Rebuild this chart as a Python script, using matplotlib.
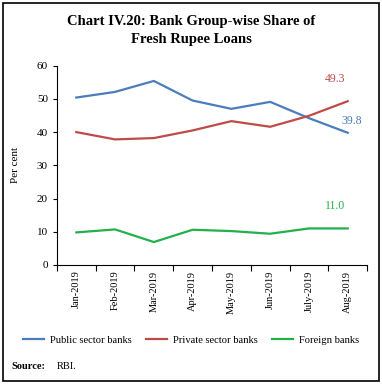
import matplotlib
matplotlib.use("Agg")
import matplotlib.pyplot as plt
from matplotlib.patches import Rectangle

plt.rcParams['font.family'] = ['Liberation Serif', 'DejaVu Serif']

months = ["Jan-2019", "Feb-2019", "Mar-2019", "Apr-2019", "May-2019",
          "Jun-2019", "July-2019", "Aug-2019"]
public = [50.4, 52.1, 55.4, 49.5, 47.0, 49.1, 44.2, 39.8]
private = [40.0, 37.8, 38.2, 40.5, 43.3, 41.6, 44.9, 49.3]
foreign = [9.8, 10.7, 6.9, 10.6, 10.2, 9.4, 11.0, 11.0]

c_pub = "#4a7ebb"
c_pvt = "#be4b48"
c_for = "#22b04b"

fig = plt.figure(figsize=(3.82, 3.84), dpi=100)
ax = fig.add_axes([0.149, 0.310, 0.812, 0.519])

x = list(range(len(months)))
ax.plot(x, public, color=c_pub, lw=1.6, label="Public sector banks")
ax.plot(x, private, color=c_pvt, lw=1.6, label="Private sector banks")
ax.plot(x, foreign, color=c_for, lw=1.6, label="Foreign banks")

# end labels
ax.annotate(f"{private[-1]:.1f}", (x[-1], private[-1]), xytext=(-9, 14),
            textcoords="offset points", color=c_pvt, fontsize=8.5, ha="center")
ax.annotate(f"{public[-1]:.1f}", (x[-1], public[-1]), xytext=(3, 6),
            textcoords="offset points", color=c_pub, fontsize=8.5, ha="center")
ax.annotate(f"{foreign[-1]:.1f}", (x[-1], foreign[-1]), xytext=(-9, 14),
            textcoords="offset points", color=c_for, fontsize=8.5, ha="center")

ax.set_xlim(-0.5, len(months) - 0.5)
ax.set_ylim(0, 60)
ax.set_yticks(range(0, 61, 10))
ax.set_xticks([i - 0.5 for i in range(len(months) + 1)])
ax.set_xticklabels([])
ax.set_xticks(x, minor=True)
ax.set_xticklabels(months, minor=True, rotation=90, fontsize=7.5)
ax.tick_params(axis="x", which="minor", length=0, pad=4)
ax.tick_params(axis="x", which="major", length=4, width=0.8)
ax.tick_params(axis="y", labelsize=8, length=3, width=0.8)
ax.spines["top"].set_visible(False)
ax.spines["right"].set_visible(False)
ax.set_ylabel("Per cent", fontsize=8, labelpad=12)

fig.text(0.5, 0.943, "Chart IV.20: Bank Group-wise Share of", ha="center",
         va="center", fontsize=10.5, fontweight="bold")
fig.text(0.5, 0.896, "Fresh Rupee Loans", ha="center", va="center",
         fontsize=10.5, fontweight="bold")

fig.legend(loc="center", bbox_to_anchor=(0.5, 0.115), ncol=3, frameon=False,
           fontsize=7.6, handlelength=2.0, columnspacing=1.4, handletextpad=0.5)

fig.text(0.03, 0.046, "Source:", fontsize=7.5, fontweight="bold", va="center")
fig.text(0.148, 0.046, "RBI.", fontsize=7.5, va="center")

fig.patches.append(Rectangle((0.008, 0.008), 0.984, 0.984, transform=fig.transFigure,
                             fill=False, edgecolor="black", lw=1.2))

fig.savefig("out.png", dpi=100)
